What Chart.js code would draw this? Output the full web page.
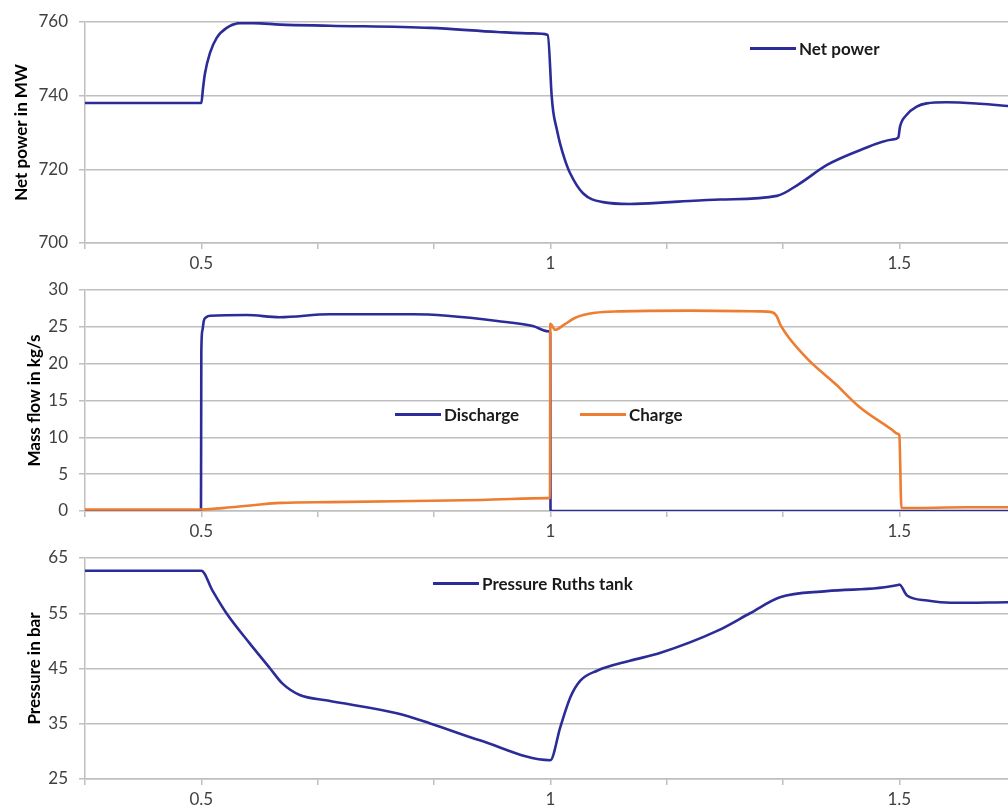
<!DOCTYPE html>
<html>
<head>
<meta charset="utf-8">
<title>Net power, mass flow and Ruths tank pressure</title>
<script src="https://cdn.jsdelivr.net/npm/chart.js@4.4.1/dist/chart.umd.min.js"></script>
<style>
  body { margin: 0; background: #fff; }
  #page { position: relative; width: 1008px; height: 805px; overflow: hidden; font-family: Lato, sans-serif; }
  #page canvas { position: absolute; left: 0; }
  .leg { position: absolute; display: flex; align-items: center; white-space: nowrap;
         font: bold 17px Lato, sans-serif; color: #1a1a1a; }
  .leg i { display: inline-block; width: 46px; height: 3px; margin-right: 3px; }
</style>
</head>
<body>
<div id="page">
  <canvas id="cPower"    width="1008" height="275" style="top:0"></canvas>
  <canvas id="cFlow"     width="1008" height="265" style="top:275px"></canvas>
  <canvas id="cPressure" width="1008" height="265" style="top:540px"></canvas>

  <div class="leg" style="left:750px;top:38px"><i style="background:#2c2c98"></i>Net power</div>
  <div class="leg" style="left:395px;top:404px"><i style="background:#2c2c98"></i>Discharge</div>
  <div class="leg" style="left:580px;top:404px"><i style="background:#ed7d31"></i>Charge</div>
  <div class="leg" style="left:433px;top:573px"><i style="background:#2c2c98"></i>Pressure Ruths tank</div>
</div>

<script>
// ---- shared time axis ----
const T_MIN = 1 / 3;
const T_MAX = 1.6557;
const X_TICKS  = [1/3, 0.5, 2/3, 5/6, 1, 7/6, 4/3, 1.5];
const X_LABELS = ['', '0.5', '', '', '1', '', '', '1.5'];

// ---- net power (MW) ----
const powerT  = [0.3333, 0.498, 0.5, 0.5024, 0.5052, 0.5124, 0.522, 0.5363, 0.5554, 0.575, 0.613,
                 0.684, 0.828, 0.924, 0.975, 0.9965, 1.0019, 1.0043, 1.0091, 1.0138, 1.0210, 1.0282,
                 1.0468, 1.0754, 1.1141, 1.1714, 1.243, 1.3247, 1.3562, 1.3964, 1.4436, 1.49, 1.4986,
                 1.501, 1.5106, 1.5249, 1.5392, 1.5679, 1.616, 1.656];
const powerMW = [738, 738, 738, 742, 746, 751.6, 755.7, 758.4, 759.7, 759.7, 759.3,
                 759.0, 758.4, 757.3, 756.9, 756.5, 740, 735.5, 731, 727.1, 722.5, 719,
                 713.5, 711.1, 710.6, 711.1, 711.8, 712.8, 716, 721.2, 725.2, 728.1, 728.7,
                 731.6, 734.8, 737, 737.9, 738.2, 737.8, 737.2];
const POWER_TICKS = [700, 720, 740, 760];

// ---- mass flow (kg/s) ----
const dischargeT   = [0.3333, 0.4995, 0.5, 0.5015, 0.5035, 0.507, 0.513, 0.565, 0.612, 0.684,
                      0.803, 0.852, 0.924, 0.975, 0.997, 0.9998, 1.0003, 1.656];
const dischargeKgs = [0, 0, 21.6, 24.5, 25.8, 26.3, 26.5, 26.6, 26.3, 26.7,
                      26.7, 26.5, 25.8, 25.1, 24.4, 24.2, 0, 0];
const chargeT   = [0.3333, 0.5, 0.543, 0.615, 0.686, 0.805, 0.901, 0.997, 0.9995, 1.0, 1.007,
                   1.02, 1.035, 1.064, 1.1, 1.2, 1.3, 1.317, 1.324, 1.330, 1.366, 1.409, 1.442,
                   1.49, 1.497, 1.5, 1.503, 1.6, 1.656];
const chargeKgs = [0.2, 0.2, 0.5, 1.1, 1.2, 1.35, 1.5, 1.75, 1.8, 25.4, 24.6,
                   25.3, 26.2, 26.9, 27.1, 27.2, 27.1, 27.0, 26.5, 25.2, 20.9, 17.2, 14.2,
                   11.0, 10.5, 10.3, 0.4, 0.5, 0.5];
const FLOW_TICKS = [0, 5, 10, 15, 20, 25, 30];

// ---- Ruths tank pressure (bar) ----
const pressureT   = [0.3333, 0.5, 0.516, 0.536, 0.569, 0.598, 0.616, 0.641, 0.681, 0.78, 0.827,
                     0.899, 1.0, 1.0143, 1.0287, 1.043, 1.067, 1.114, 1.157, 1.239, 1.286, 1.329,
                     1.396, 1.498, 1.5, 1.511, 1.540, 1.573, 1.656];
const pressureBar = [62.7, 62.7, 59.1, 55, 49.6, 45.1, 42.3, 40.2, 39.2, 36.9, 35.1,
                     32.0, 28.4, 34.4, 39.8, 42.8, 44.6, 46.4, 47.8, 51.8, 55.0, 57.9,
                     59.0, 60.1, 60.2, 58.2, 57.3, 56.9, 57.0];
const PRESSURE_TICKS = [25, 35, 45, 55, 65];

const BLUE = '#2c2c98';
const ORANGE = '#ed7d31';
const GRID = '#bfbfbf';
const FONT = 'Lato, sans-serif';

const pts = (xs, ys) => xs.map((x, i) => ({ x, y: ys[i] }));

function series(label, xs, ys, color) {
  return {
    label, data: pts(xs, ys),
    borderColor: color, backgroundColor: color,
    borderWidth: 2.6, pointRadius: 0,
    cubicInterpolationMode: 'monotone', tension: 0.4
  };
}

function makeChart(id, datasets, yTicks, yTitle, titlePad, padTop, xAxisH) {
  new Chart(document.getElementById(id), {
    type: 'line',
    data: { datasets },
    options: {
      responsive: false, animation: false,
      layout: { padding: { top: padTop, right: 0, bottom: 0, left: 0 } },
      plugins: { legend: { display: false }, tooltip: { enabled: false } },
      scales: {
        x: {
          type: 'linear', min: T_MIN, max: T_MAX,
          afterBuildTicks: s => { s.ticks = X_TICKS.map(v => ({ value: v })); },
          afterFit: s => { s.height = xAxisH; },
          ticks: {
            autoSkip: false, maxRotation: 0, padding: 4,
            color: '#404040', font: { family: FONT, size: 17 },
            callback: (v, i) => X_LABELS[i]
          },
          grid: { drawOnChartArea: false, drawTicks: true, tickLength: 6, color: GRID, lineWidth: 1.5 },
          border: { color: GRID, width: 1.5 }
        },
        y: {
          min: yTicks[0], max: yTicks[yTicks.length - 1],
          afterBuildTicks: s => { s.ticks = yTicks.map(v => ({ value: v })); },
          afterFit: s => { s.width = 85; s.paddingTop = 0; s.paddingBottom = 0; },
          ticks: { padding: 11, color: '#404040', font: { family: FONT, size: 17 } },
          grid: { color: GRID, lineWidth: 1.5, tickLength: 6 },
          border: { color: GRID, width: 1.5 },
          title: {
            display: true, text: yTitle, color: '#000',
            font: { family: FONT, size: 17, weight: 'bold' },
            padding: { top: titlePad, bottom: 0 }
          }
        }
      }
    }
  });
}

makeChart('cPower',
  [series('Net power', powerT, powerMW, BLUE)],
  POWER_TICKS, 'Net power in MW', 11, 22, 32);

makeChart('cFlow',
  [series('Charge', chargeT, chargeKgs, ORANGE),
   series('Discharge', dischargeT, dischargeKgs, BLUE)],
  FLOW_TICKS, 'Mass flow in kg/s', 24, 15, 29);

makeChart('cPressure',
  [series('Pressure Ruths tank', pressureT, pressureBar, BLUE)],
  PRESSURE_TICKS, 'Pressure in bar', 24, 18, 26);
</script>
</body>
</html>
